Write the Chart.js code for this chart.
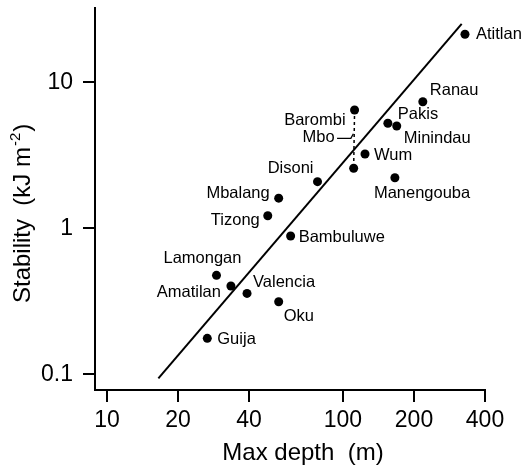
<!DOCTYPE html>
<html>
<head>
<meta charset="utf-8">
<script src="https://cdn.jsdelivr.net/npm/chart.js@4/dist/chart.umd.min.js"></script>
<style>
  html, body { margin: 0; padding: 0; background: #fff; }
</style>
</head>
<body>
<canvas id="c" width="522" height="465"></canvas>
<script>
// Lake stability against maximum depth, log-log scatter with fitted line.
const LAKES = ['Atitlan', 'Ranau', 'Pakis', 'Minindau', 'Barombi', 'Mbo', 'Wum', 'Manengouba', 'Disoni',
  'Mbalang', 'Tizong', 'Bambuluwe', 'Lamongan', 'Amatilan', 'Valencia', 'Oku', 'Guija'];
const DEPTH = [329, 218, 155, 169, 112, 111, 124, 166, 78, 53.4, 48, 60, 29.1, 33.5, 39.2, 53.4, 26.6];
const STABILITY = [21.4, 7.38, 5.25, 5.03, 6.48, 2.58, 3.23, 2.22, 2.09, 1.61, 1.22, 0.886, 0.476, 0.402, 0.358, 0.314, 0.176];

// regression line end points
const FIT_DEPTH = [16.5, 318.6];
const FIT_STABILITY = [0.0937, 25.2];

// leader from the Mbo label to the Barombi/Mbo connector
const MBO_LEADER_DEPTH = [94.4, 108, 110.7];
const MBO_LEADER_STABILITY = [4.14, 4.14, 4.45];

const DEPTH_TICKS = [10, 20, 40, 100, 200, 400];
const STABILITY_TICKS = [0.1, 1, 10];

const INK = '#000';
const FONT = '"Liberation Sans", Arial, Helvetica, sans-serif';

// label placement: dx, dy (to baseline) from the dot, text alignment
const LABEL_PLACE = {
  Atitlan: [11, 5, 'left'],
  Ranau: [7, -7, 'left'],
  Pakis: [10, -4, 'left'],
  Minindau: [7, 17, 'left'],
  Barombi: [-9, 15, 'right'],
  Mbo: [-19, -26, 'right'],
  Wum: [9, 6, 'left'],
  Manengouba: [-21, 20, 'left'],
  Disoni: [-4, -9, 'right'],
  Mbalang: [-9, 0, 'right'],
  Tizong: [-8, 9, 'right'],
  Bambuluwe: [8, 6, 'left'],
  Lamongan: [-53, -12, 'left'],
  Amatilan: [-10, 11, 'right'],
  Valencia: [6, -6, 'left'],
  Oku: [5, 19, 'left'],
  Guija: [10, 6, 'left']
};

const pairs = (xs, ys) => xs.map((x, i) => ({ x, y: ys[i] }));

const annotate = {
  id: 'annotate',
  afterDatasetsDraw(chart) {
    const ctx = chart.ctx;
    const meta = chart.getDatasetMeta(0);
    ctx.save();
    ctx.fillStyle = INK;
    ctx.textBaseline = 'alphabetic';
    ctx.font = '16.5px ' + FONT;
    meta.data.forEach((pt, i) => {
      const [dx, dy, align] = LABEL_PLACE[LAKES[i]];
      ctx.textAlign = align;
      ctx.fillText(LAKES[i], pt.x + dx, pt.y + dy);
    });

    // x title
    ctx.font = '24px ' + FONT;
    ctx.textAlign = 'center';
    ctx.fillText('Max depth  (m)', 303, 460);

    // y title with superscript
    ctx.textAlign = 'left';
    ctx.translate(30, 303);
    ctx.rotate(-Math.PI / 2);
    const head = 'Stability  (kJ m';
    ctx.fillText(head, 0, 0);
    let w = ctx.measureText(head).width + 1;
    ctx.font = '15px ' + FONT;
    ctx.fillText('-2', w, -10);
    w += ctx.measureText('-2').width + 1;
    ctx.font = '24px ' + FONT;
    ctx.fillText(')', w, 0);
    ctx.restore();
  }
};

Chart.defaults.font.family = FONT;
Chart.defaults.color = INK;

new Chart(document.getElementById('c').getContext('2d'), {
  type: 'scatter',
  data: {
    datasets: [
      {
        data: pairs(DEPTH, STABILITY),
        pointRadius: 4.5,
        pointBackgroundColor: INK,
        pointBorderWidth: 0
      },
      {
        data: pairs(FIT_DEPTH, FIT_STABILITY),
        showLine: true,
        pointRadius: 0,
        borderColor: INK,
        borderWidth: 2
      },
      {
        data: pairs(DEPTH.slice(4, 6), STABILITY.slice(4, 6)),
        showLine: true,
        pointRadius: 0,
        borderColor: INK,
        borderWidth: 1.5,
        borderDash: [3, 3]
      },
      {
        data: pairs(MBO_LEADER_DEPTH, MBO_LEADER_STABILITY),
        showLine: true,
        pointRadius: 0,
        borderColor: INK,
        borderWidth: 1.3
      }
    ]
  },
  options: {
    responsive: false,
    animation: false,
    layout: { padding: { top: 8, right: 37, left: 0, bottom: 0 } },
    plugins: { legend: { display: false }, tooltip: { enabled: false } },
    scales: {
      x: {
        type: 'logarithmic',
        min: 8.89,
        max: 400,
        afterBuildTicks: s => { s.ticks = DEPTH_TICKS.map(v => ({ value: v })); },
        afterFit: s => { s.height = 75; s.paddingLeft = 0; s.paddingRight = 0; },
        grid: { drawOnChartArea: false, drawTicks: true, tickLength: 12, color: INK, lineWidth: 2 },
        border: { display: true, color: INK, width: 2 },
        ticks: { color: INK, font: { size: 23 }, padding: 5, autoSkip: false, maxRotation: 0, callback: v => String(v) }
      },
      y: {
        type: 'logarithmic',
        min: 0.0779,
        max: 32.4,
        afterBuildTicks: s => { s.ticks = STABILITY_TICKS.map(v => ({ value: v })); },
        afterFit: s => { s.width = 95; s.paddingTop = 0; s.paddingBottom = 0; },
        grid: { drawOnChartArea: false, drawTicks: true, tickLength: 12, color: INK, lineWidth: 2 },
        border: { display: true, color: INK, width: 2 },
        ticks: { color: INK, font: { size: 23 }, padding: 10, autoSkip: false, callback: v => String(v) }
      }
    }
  },
  plugins: [annotate]
});
</script>
</body>
</html>
